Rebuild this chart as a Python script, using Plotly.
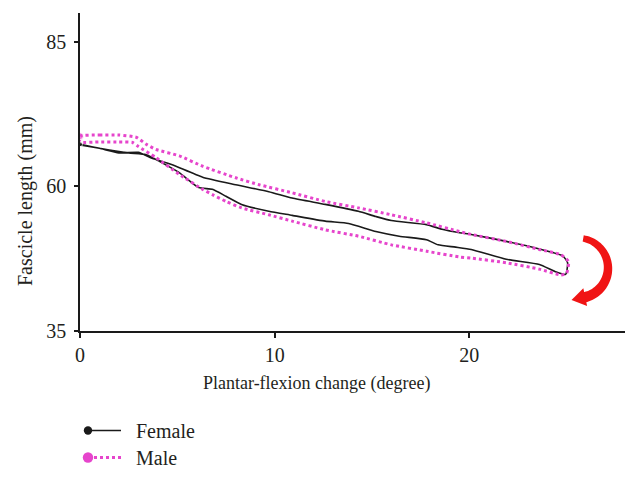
import numpy as np
import plotly.graph_objects as go

# ---------------- data ----------------
female_x = [0.0, 1.0, 2.0, 3.0, 3.6, 4.7, 6.3, 8.0, 9.7, 10.9, 12.6, 14.3, 15.2, 16.0, 17.8, 18.6,
            19.5, 20.1, 21.9, 23.6, 24.8, 25.05, 24.95,
            24.4, 23.6, 21.9, 20.1, 19.3, 18.4, 17.8, 16.4, 15.2, 13.8, 12.6, 10.9, 9.7, 8.3, 7.5,
            6.8, 6.1, 5.1, 4.1, 3.4, 2.5, 1.0, 0.0]
female_y = [67.3, 66.6, 65.8, 65.9, 65.0, 63.8, 61.6, 60.3, 59.1, 58.0, 56.9, 55.7, 54.8, 54.1, 53.4, 52.6,
            52.0, 51.7, 50.5, 49.2, 48.0, 46.8, 44.8,
            45.3, 46.5, 47.4, 49.1, 49.5, 49.9, 50.8, 51.4, 52.2, 53.6, 54.0, 55.0, 55.7, 56.9, 58.3,
            59.5, 59.8, 62.4, 64.3, 65.5, 65.8, 66.6, 67.2]

male_x = [0.0, 1.0, 2.0, 2.9, 3.4, 3.9, 5.1, 6.3, 8.0, 9.2, 10.9, 12.6, 14.3, 16.0, 17.8, 19.5,
          20.1, 21.9, 23.6, 24.7, 25.1, 25.0,
          24.7, 23.6, 21.9, 20.1, 19.5, 17.8, 16.0, 14.3, 12.6, 10.9, 9.7, 8.3, 7.5, 6.8, 6.3,
          5.1, 3.9, 3.0, 2.7, 2.0, 1.0, 0.0, 0.0]
male_y = [68.7, 68.9, 68.9, 68.5, 67.3, 66.4, 65.3, 63.5, 61.5, 60.3, 58.9, 57.4, 56.3, 55.1, 53.7, 52.2,
          51.7, 50.5, 49.1, 48.2, 47.0, 45.0,
          44.7, 45.7, 46.8, 47.6, 47.8, 48.8, 49.9, 51.4, 52.5, 54.0, 55.1, 56.3, 57.4, 58.6, 59.5,
          62.1, 65.0, 66.9, 67.6, 67.7, 67.7, 67.7, 68.7]

series_names = ["Female", "Male"]
x_ticks = [0, 10, 20]
y_ticks = [35, 60, 85]
x_title = "Plantar-flexion change (degree)"
y_title = "Fascicle length (mm)"

# ---------------- styling ----------------
FONT = "Liberation Serif"
FS = 20
FS_X = 18
TXT = "#231F20"
BLACK = "#1A1A1A"
PINK = "#E645CC"
RED = "#F01414"

W, H = 640, 477
OFF = 8  # page body margin
# plot area on screen: x 80..625, y 13..331
SX0, SX1, SY0, SY1 = 80, 625, 13, 331
L, R = SX0 - OFF, W - (SX1 - OFF)
T, B = SY0 - OFF, H - (SY1 - OFF)
PW, PH = SX1 - SX0, SY1 - SY0


def pxx(x):
    return (x - SX0) / PW


def pxy(y):
    return (SY1 - y) / PH


fig = go.Figure()
fig.add_trace(go.Scatter(
    x=female_x, y=female_y, mode="lines+markers", name=series_names[0],
    line=dict(color=BLACK, width=1.6, shape="spline", smoothing=0.5),
    marker=dict(color=BLACK, size=[5] + [0] * (len(female_x) - 1)),
    showlegend=False))
fig.add_trace(go.Scatter(
    x=male_x, y=male_y, mode="lines+markers", name=series_names[1],
    line=dict(color=PINK, width=3, dash="dot", shape="spline", smoothing=0.5),
    marker=dict(color=PINK, size=[7] + [0] * (len(male_x) - 1)),
    showlegend=False))

shapes = []
annotations = []

# ---- curved red arrow (decoration) ----
cx, cy, r = 578, 268, 30
th = np.radians(np.linspace(-80, 78, 50))
hw = np.linspace(3.2, 5.2, 50)
outer = [(cx + (r + h) * np.cos(t), cy + (r + h) * np.sin(t)) for t, h in zip(th, hw)]
inner = [(cx + (r - h) * np.cos(t), cy + (r - h) * np.sin(t)) for t, h in zip(th, hw)][::-1]
pts = outer + inner
path = "M " + " L ".join(f"{pxx(a):.5f},{pxy(b):.5f}" for a, b in pts) + " Z"
shapes.append(dict(type="path", xref="paper", yref="paper", path=path,
                   fillcolor=RED, line=dict(width=0)))
te = th[-1]
ex, ey = cx + r * np.cos(te), cy + r * np.sin(te)
tx, ty = -np.sin(te), np.cos(te)
nx, ny = np.cos(te), np.sin(te)
tip = (ex + 13 * tx, ey + 13 * ty)
c1 = (ex - 1 * tx + 9 * nx, ey - 1 * ty + 9 * ny)
c2 = (ex - 1 * tx - 9 * nx, ey - 1 * ty - 9 * ny)
tri = [tip, c1, c2]
path2 = "M " + " L ".join(f"{pxx(a):.5f},{pxy(b):.5f}" for a, b in tri) + " Z"
shapes.append(dict(type="path", xref="paper", yref="paper", path=path2,
                   fillcolor=RED, line=dict(width=0)))

# ---- manual legend ----
leg_rows = [(430.5, BLACK, "solid", 1.6, 4.2, series_names[0]),
            (457.5, PINK, "dot", 3, 5.2, series_names[1])]
for yy, col, dash, lw, rad, name in leg_rows:
    shapes.append(dict(type="line", xref="paper", yref="paper",
                       x0=pxx(88), x1=pxx(121), y0=pxy(yy), y1=pxy(yy),
                       line=dict(color=col, width=lw, dash=dash)))
    shapes.append(dict(type="circle", xref="paper", yref="paper",
                       x0=pxx(88 - rad), x1=pxx(88 + rad), y0=pxy(yy + rad), y1=pxy(yy - rad),
                       fillcolor=col, line=dict(width=0)))
    annotations.append(dict(xref="paper", yref="paper", x=pxx(134), y=pxy(yy),
                            xanchor="left", yanchor="middle", text=name, showarrow=False,
                            font=dict(family=FONT, size=FS, color=TXT)))

# ---- axis titles ----
annotations.append(dict(xref="paper", yref="paper", x=pxx(317), y=pxy(383),
                        xanchor="center", yanchor="middle", text=x_title, showarrow=False,
                        font=dict(family=FONT, size=FS_X, color=TXT)))
annotations.append(dict(xref="paper", yref="paper", x=pxx(25), y=pxy(201),
                        xanchor="center", yanchor="middle", text=y_title, showarrow=False,
                        textangle=-90, font=dict(family=FONT, size=FS, color=TXT)))

fig.update_layout(
    width=W, height=H,
    margin=dict(l=L, r=R, t=T, b=B),
    paper_bgcolor="white", plot_bgcolor="white",
    font=dict(family=FONT, size=FS, color=TXT),
    shapes=shapes, annotations=annotations,
    showlegend=False,
)
fig.update_xaxes(range=[0, 28], tickvals=x_ticks, ticktext=[str(v) for v in x_ticks],
                 showline=True, linecolor=BLACK, linewidth=1.5, showgrid=False, zeroline=False,
                 ticks="outside", ticklen=5, tickwidth=1.5, tickcolor=BLACK,
                 ticklabelstandoff=0, tickfont=dict(family=FONT, size=FS, color=TXT))
fig.update_yaxes(range=[35, 90], tickvals=y_ticks, ticktext=[str(v) for v in y_ticks],
                 showline=True, linecolor=BLACK, linewidth=1.5, showgrid=False, zeroline=False,
                 ticks="outside", ticklen=4, tickwidth=1.5, tickcolor=BLACK,
                 ticklabelstandoff=4, tickfont=dict(family=FONT, size=FS, color=TXT))

fig.write_html("out.html")
